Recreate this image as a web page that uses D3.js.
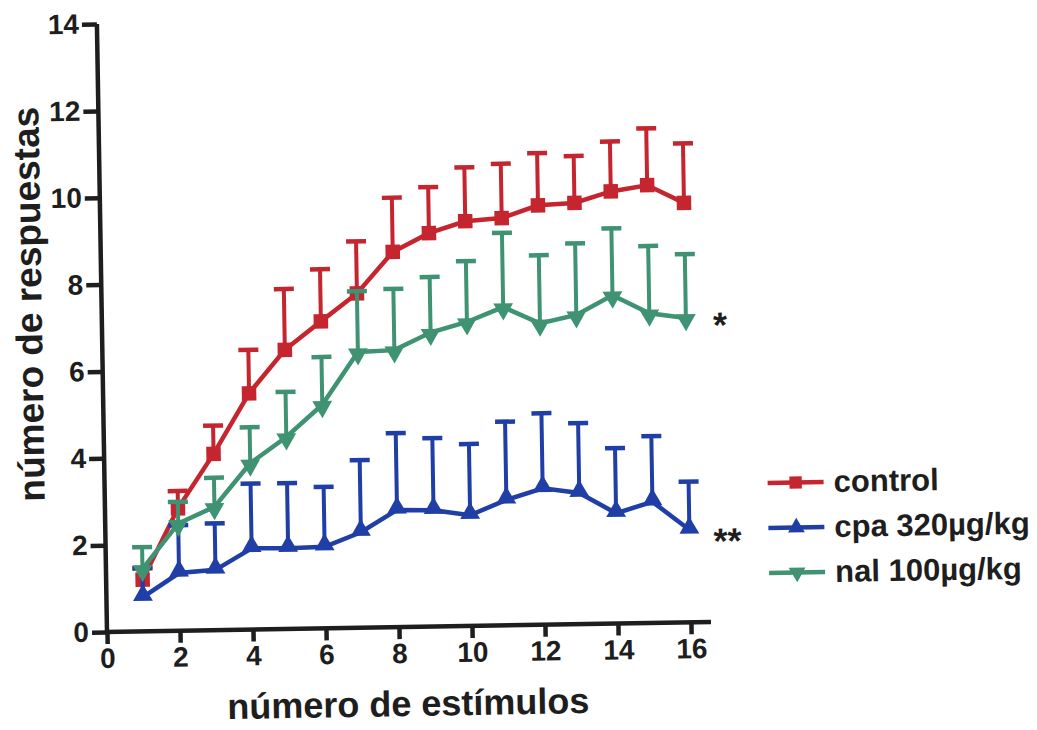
<!DOCTYPE html>
<html>
<head>
<meta charset="utf-8">
<script src="https://cdn.jsdelivr.net/npm/d3@7"></script>
<style>
  html, body { margin: 0; padding: 0; background: #fff; }
  svg { display: block; }
  text { font-family: "Liberation Sans", Arial, Helvetica, sans-serif; font-weight: bold; fill: #1e1e1e; }
</style>
</head>
<body>
<svg id="chart" width="1037" height="730"></svg>
<script>
// ---- data ----
const stimuli = [1,2,3,4,5,6,7,8,9,10,11,12,13,14,15,16];
const controlMean = [1.19,2.82,4.06,5.44,6.43,7.07,7.70,8.64,9.06,9.32,9.38,9.66,9.70,9.95,10.08,9.66];
const controlUpper = [1.45,3.22,4.71,6.44,7.83,8.27,8.90,9.89,10.12,10.56,10.63,10.86,10.78,11.10,11.39,11.03];
const cpaMean = [0.79,1.33,1.39,1.87,1.86,1.88,2.20,2.70,2.68,2.55,2.89,3.14,3.02,2.54,2.79,2.13];
const cpaUpper = [1.46,2.43,2.46,3.36,3.36,3.26,3.86,4.47,4.34,4.19,4.69,4.87,4.63,4.04,4.30,3.24];
const nalMean = [1.44,2.47,2.84,3.83,4.42,5.15,6.35,6.38,6.77,7.00,7.33,6.94,7.12,7.56,7.13,7.01];
const nalUpper = [1.94,2.97,3.51,4.66,5.46,6.25,7.75,7.79,8.05,8.40,9.04,8.51,8.77,9.10,8.68,8.48];
const xTicks = [0,2,4,6,8,10,12,14,16];
const yTicks = [0,2,4,6,8,10,12,14];
const seriesNames = ["control", "cpa 320\u00B5g/kg", "nal 100\u00B5g/kg"];
const seriesColors = ["#c5252e", "#1f3ea6", "#3f9373"];
const seriesMarkers = ["square", "triangleUp", "triangleDown"];
const xTitle = "número de estímulos";
const yTitle = "número de respuestas";

const series = [
  {name: seriesNames[0], color: seriesColors[0], marker: seriesMarkers[0], mean: controlMean, upper: controlUpper},
  {name: seriesNames[1], color: seriesColors[1], marker: seriesMarkers[1], mean: cpaMean, upper: cpaUpper},
  {name: seriesNames[2], color: seriesColors[2], marker: seriesMarkers[2], mean: nalMean, upper: nalUpper}
];

// ---- layout ----
const svg = d3.select("#chart");
const ox = 107, oy = 632;
const x = d3.scaleLinear().domain([0, 16]).range([ox, 691]);
const y = d3.scaleLinear().domain([0, 14]).range([oy, 24]);
const axisColor = "#1e1e1e";

// the scanned figure is slightly tilted
const root = svg.append("g").attr("transform", `rotate(-0.95, ${ox}, ${oy})`);

// axes
const yAxis = root.append("g").attr("transform", `translate(${ox},0)`)
  .call(d3.axisLeft(y).tickValues(yTicks).tickSize(15).tickSizeOuter(0).tickPadding(3).tickFormat(d3.format("d")));
const xAxis = root.append("g").attr("transform", `translate(0,${oy})`)
  .call(d3.axisBottom(x).tickValues(xTicks).tickSize(12).tickSizeOuter(0).tickPadding(4).tickFormat(d3.format("d")));
[yAxis, xAxis].forEach(g => {
  g.select(".domain").attr("stroke", axisColor).attr("stroke-width", 4.5);
  g.selectAll(".tick line").attr("stroke", axisColor).attr("stroke-width", 4.5);
  g.selectAll(".tick text").attr("font-size", 28).attr("fill", axisColor)
    .style("font-family", '"Liberation Sans", Arial, sans-serif').style("font-weight", "bold");
});
// extend x-axis line past last tick like the original
xAxis.select(".domain").attr("d", `M${ox - 2},0H${x(16.55)}`);
yAxis.select(".domain").attr("d", `M0,${oy + 2}V${y(14)}`);

// series
const line = d3.line().x((d, i) => x(stimuli[i])).y(d => y(d));
const sym = {
  square: d3.symbol().type(d3.symbolSquare).size(210),
  triangleUp: d3.symbol().type(d3.symbolTriangle).size(170),
  triangleDown: d3.symbol().type(d3.symbolTriangle).size(170)
};
const capW = 10;

series.forEach(s => {
  const g = root.append("g");
  // error bars (upper only)
  g.selectAll("line.err").data(stimuli).join("line")
    .attr("x1", d => x(d)).attr("x2", d => x(d))
    .attr("y1", (d, i) => y(s.mean[i])).attr("y2", (d, i) => y(s.upper[i]))
    .attr("stroke", s.color).attr("stroke-width", 4);
  g.selectAll("line.cap").data(stimuli).join("line")
    .attr("x1", d => x(d) - capW).attr("x2", d => x(d) + capW)
    .attr("y1", (d, i) => y(s.upper[i])).attr("y2", (d, i) => y(s.upper[i]))
    .attr("stroke", s.color).attr("stroke-width", 4.5);
  g.append("path").datum(s.mean).attr("d", line)
    .attr("fill", "none").attr("stroke", s.color).attr("stroke-width", 4.5);
  g.selectAll("path.m").data(stimuli).join("path")
    .attr("d", sym[s.marker])
    .attr("transform", (d, i) => `translate(${x(d)},${y(s.mean[i]) + (s.marker === "triangleUp" ? -2 : s.marker === "triangleDown" ? 2 : 0)}) rotate(${s.marker === "triangleDown" ? 180 : 0})`)
    .attr("fill", s.color);
});

// significance marks
root.append("text").attr("x", x(16) + 27).attr("y", y(nalMean[15]) + 20)
  .attr("font-size", 36).text("*");
root.append("text").attr("x", x(16) + 24).attr("y", y(cpaMean[15]) + 24)
  .attr("font-size", 36).text("**");

// legend
const legendX = 770, legendY0 = 494, legendDy = 45;
series.forEach((s, i) => {
  const gy = legendY0 + i * legendDy;
  const lg = root.append("g");
  lg.append("line").attr("x1", legendX).attr("x2", legendX + 56).attr("y1", gy).attr("y2", gy)
    .attr("stroke", s.color).attr("stroke-width", 4.5);
  lg.append("path").attr("d", sym[s.marker])
    .attr("transform", `translate(${legendX + 28},${gy}) rotate(${s.marker === "triangleDown" ? 180 : 0}) scale(0.85)`)
    .attr("fill", s.color);
  lg.append("text").attr("x", legendX + 66).attr("y", gy + 10)
    .attr("font-size", 31).text(s.name);
});

// axis titles
root.append("text").attr("x", (x(0) + x(16.55)) / 2 - 2).attr("y", 721)
  .attr("text-anchor", "middle").attr("font-size", 36).text(xTitle);
root.append("text").attr("transform", `translate(47,303) rotate(-90)`)
  .attr("text-anchor", "middle").attr("font-size", 37).text(yTitle);
</script>
</body>
</html>
